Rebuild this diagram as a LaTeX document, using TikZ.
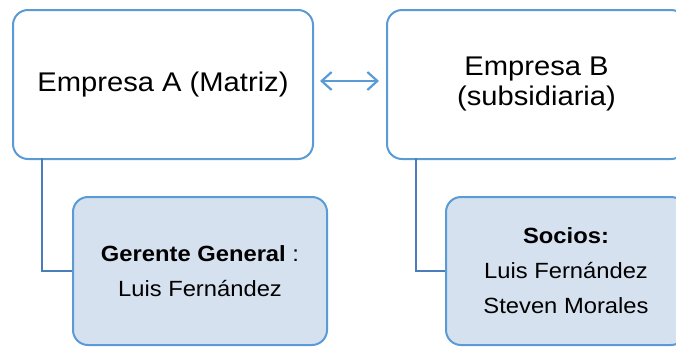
\documentclass[tikz,border=0pt]{standalone}
\usepackage{fontspec}
\setmainfont[FakeStretch=1.08]{Liberation Sans}
\usetikzlibrary{arrows.meta}
\definecolor{boxblue}{HTML}{5B9BD5}
\definecolor{linkblue}{HTML}{4A7EBB}
\definecolor{childfill}{HTML}{D6E1EF}
\tikzset{
  topbox/.style={draw=boxblue, line width=2pt, rounded corners=15pt, fill=white,
    anchor=north west, inner sep=0pt, align=center, font=\fontsize{27}{30}\selectfont},
  childbox/.style={draw=boxblue, line width=2pt, rounded corners=15pt, fill=childfill,
    anchor=north west, inner sep=0pt, align=center, font=\fontsize{22}{35}\selectfont},
  link/.style={draw=linkblue, line width=2pt},
  dblarrow/.style={draw=boxblue, line width=2.2pt,
    {Straight Barb[length=10pt,width=18pt,line width=2.2pt]}-{Straight Barb[length=10pt,width=18pt,line width=2.2pt]}}
}
\begin{document}
\begin{tikzpicture}[x=1pt,y=-1pt]
\useasboundingbox (0,0) rectangle (676,346);
\clip (0,0) rectangle (676,346);
\node[topbox, minimum width=300pt, minimum height=149pt] (A) at (12,9) {Empresa A (Matriz)};
\node[topbox, minimum width=299pt, minimum height=149pt] (B) at (386,9) {Empresa B\\(subsidiaria)};
\node[childbox, minimum width=254pt, minimum height=148pt] (CA) at (72,196) {\textbf{Gerente General} :\\Luis Fernández};
\node[childbox, minimum width=240pt, minimum height=148pt] (CB) at (445,196) {\textbf{Socios:}\\Luis Fernández\\Steven Morales};
\coordinate (ca) at (42,158);
\coordinate (cb) at (416,158);
\draw[link] (ca) |- (CA.west);
\draw[link] (cb) |- (CB.west);
\draw[dblarrow] ([xshift=6pt,yshift=3.5pt]A.east) -- ([xshift=-7pt,yshift=3.5pt]B.west);
\end{tikzpicture}
\end{document}
